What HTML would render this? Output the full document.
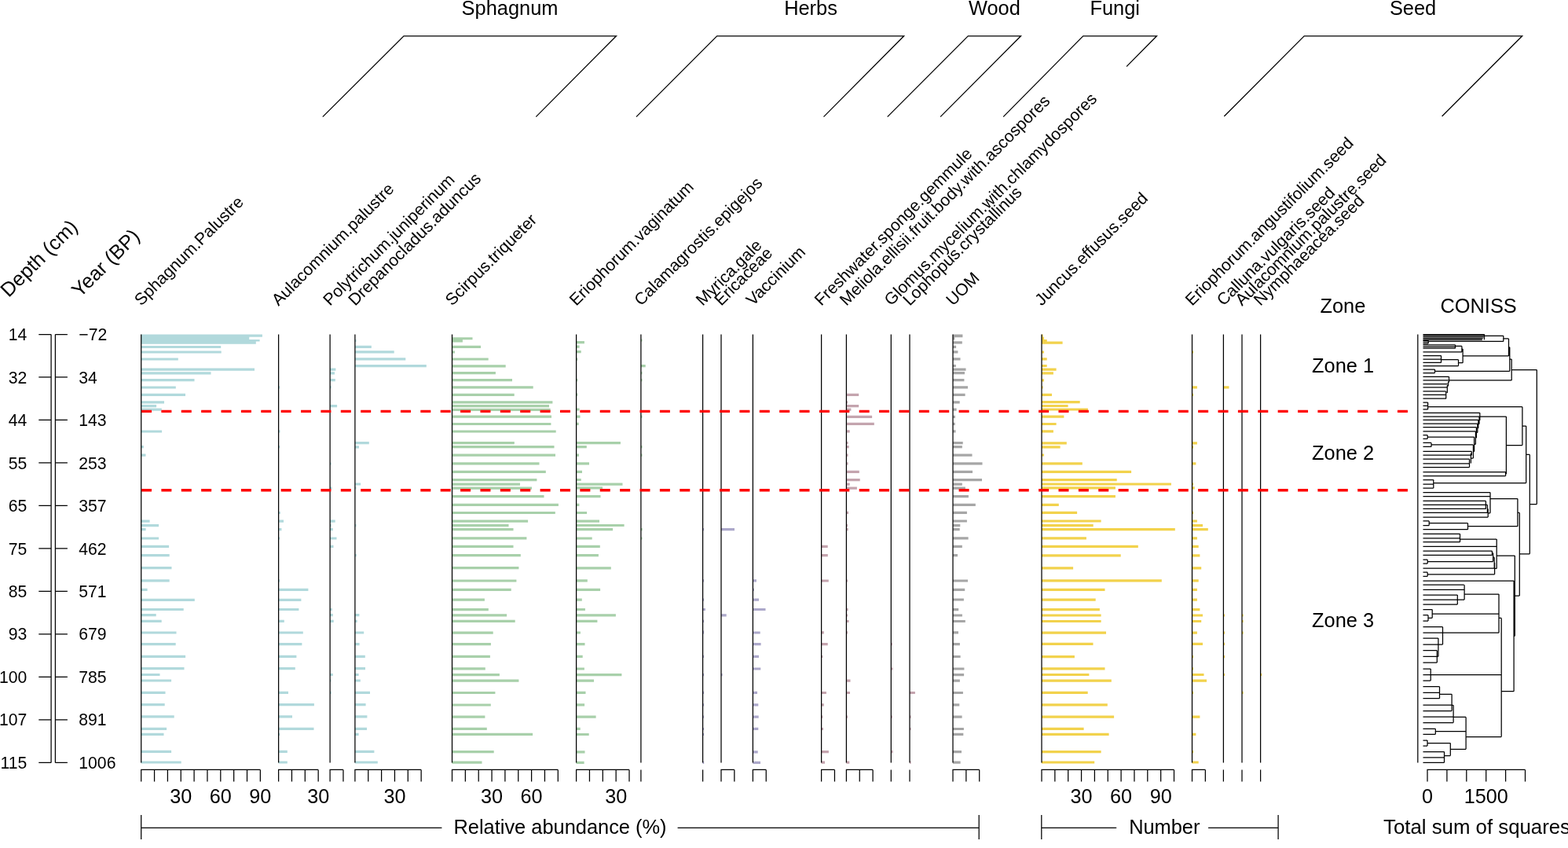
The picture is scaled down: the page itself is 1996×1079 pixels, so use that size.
<!DOCTYPE html>
<html><head><meta charset="utf-8"><title>Stratigraphic diagram</title>
<style>html,body{margin:0;padding:0;background:#fff;}svg{display:block;}</style>
</head><body>
<svg width="1996" height="1079" viewBox="0 0 1996 1079">
<rect width="1996" height="1079" fill="#fff"/>
<g>
<path d="M179.7 425.45H333.9V428.8H179.7ZM179.7 428.8H317.3V431.9H179.7ZM179.7 431.9H330.6V434.6H179.7ZM179.7 434.6H325.8V437.8H179.7ZM179.7 439.9H281.2V443.1H179.7ZM179.7 446.4H281.7V449.6H179.7ZM179.7 455.4H226.8V458.6H179.7ZM179.7 468.6H324V471.8H179.7ZM179.7 473.3H268.5V476.5H179.7ZM179.7 482.1H247.5V485.3H179.7ZM179.7 491.4H223.8V494.6H179.7ZM179.7 500.8H236V504H179.7ZM179.7 510.3H209V513.5H179.7ZM179.7 515.1H199.1V518.3H179.7ZM179.7 519.5H205.8V522.7H179.7ZM179.7 547.4H206.1V550.6H179.7ZM179.7 567H182.8V570.2H179.7ZM179.7 577.6H185.5V580.8H179.7ZM179.7 661.5H190.6V664.7H179.7ZM179.7 667.1H202.1V670.3H179.7ZM179.7 672.1H185.6V675.3H179.7ZM179.7 683.4H202.1V686.6H179.7ZM179.7 693.8H215.1V697H179.7ZM179.7 705H215.7V708.2H179.7ZM179.7 721H218.5V724.2H179.7ZM179.7 737.3H215.7V740.5H179.7ZM179.7 748.7H187.6V751.9H179.7ZM179.7 761.7H247.8V764.9H179.7ZM179.7 773.9H233.7V777.1H179.7ZM179.7 781.1H198.7V784.3H179.7ZM179.7 788.8H205.7V792H179.7ZM179.7 803.4H224.5V806.6H179.7ZM179.7 818.1H223.7V821.3H179.7ZM179.7 833.7H236.1V836.9H179.7ZM179.7 849.1H234.5V852.3H179.7ZM179.7 856.9H203.5V860.1H179.7ZM179.7 864.4H218.1V867.6H179.7ZM179.7 879.8H210.5V883H179.7ZM179.7 895H209.7V898.2H179.7ZM179.7 910.2H221.7V913.4H179.7ZM179.7 925.7H212.1V928.9H179.7ZM179.7 932.7H208.5V935.9H179.7ZM179.7 954.7H218.1V957.9H179.7ZM179.7 968.4H230.7V971.6H179.7Z" fill="#b1d9dc"/>
<path d="M354.6 491.2H356.2V494.4H354.6ZM354.6 547.2H356.5V550.4H354.6ZM354.6 567H356.2V570.2H354.6ZM354.6 650.9H356.8V654.1H354.6ZM354.6 661.5H361V664.7H354.6ZM354.6 672.1H358.4V675.3H354.6ZM354.6 683.4H356.2V686.6H354.6ZM354.6 737.3H356.2V740.5H354.6ZM354.6 748.7H392.4V751.9H354.6ZM354.6 761.7H383.4V764.9H354.6ZM354.6 773.9H380.4V777.1H354.6ZM354.6 788.8H361.8V792H354.6ZM354.6 803.4H385.8V806.6H354.6ZM354.6 818.1H384.4V821.3H354.6ZM354.6 833.7H377.4V836.9H354.6ZM354.6 849.1H375.8V852.3H354.6ZM354.6 879.8H367V883H354.6ZM354.6 895H399.9V898.2H354.6ZM354.6 910.2H372V913.4H354.6ZM354.6 925.7H399.5V928.9H354.6ZM354.6 932.7H356.2V935.9H354.6ZM354.6 954.7H365.8V957.9H354.6ZM354.6 968.4H365.8V971.6H354.6Z" fill="#b1d9dc"/>
<path d="M420.1 468.5H427.4V471.7H420.1ZM420.1 473.2H426V476.4H420.1ZM420.1 482.1H426.8V485.3H420.1ZM420.1 491.1H421.7V494.3H420.1ZM420.1 515.1H429.1V518.3H420.1ZM420.1 588.4H421.7V591.6H420.1ZM420.1 619.4H422.5V622.6H420.1ZM420.1 661.5H426.7V664.7H420.1ZM420.1 667.1H421.7V670.3H420.1ZM420.1 672.1H423.7V675.3H420.1ZM420.1 683.4H428.5V686.6H420.1ZM420.1 693.8H424.5V697H420.1ZM420.1 773.9H422.7V777.1H420.1ZM420.1 781.1H423.7V784.3H420.1ZM420.1 788.8H424.7V792H420.1ZM420.1 856.9H423.7V860.1H420.1ZM420.1 864.4H421.5V867.6H420.1ZM420.1 879.8H421.7V883H420.1Z" fill="#b1d9dc"/>
<path d="M451.9 431.9H453.5V435.1H451.9ZM451.9 439.7H472.8V442.9H451.9ZM451.9 446.3H501.7V449.5H451.9ZM451.9 455.3H516.3V458.5H451.9ZM451.9 464.1H542.8V467.3H451.9ZM451.9 562H469.8V565.2H451.9ZM451.9 567.2H457V570.4H451.9ZM451.9 614.4H459.1V617.6H451.9ZM451.9 619.3H453.5V622.5H451.9ZM451.9 667.1H453.5V670.3H451.9ZM451.9 705H453.8V708.2H451.9ZM451.9 781.1H457.4V784.3H451.9ZM451.9 788.8H454.6V792H451.9ZM451.9 803.4H463.2V806.6H451.9ZM451.9 818.1H457.6V821.3H451.9ZM451.9 833.7H464.8V836.9H451.9ZM451.9 849.1H465V852.3H451.9ZM451.9 856.9H456.6V860.1H451.9ZM451.9 864.4H458.8V867.6H451.9ZM451.9 879.8H471V883H451.9ZM451.9 895H465.6V898.2H451.9ZM451.9 910.2H467.4V913.4H451.9ZM451.9 925.7H467V928.9H451.9ZM451.9 932.7H456.6V935.9H451.9ZM451.9 954.7H476.4V957.9H451.9ZM451.9 968.4H480.8V971.6H451.9Z" fill="#b1d9dc"/>
<path d="M575.5 429.2H601.5V432.3H575.5ZM575.5 432.3H588.9V435.5H575.5ZM575.5 439.8H612V443H575.5ZM575.5 446.4H578.9V449.6H575.5ZM575.5 455.4H621.7V458.6H575.5ZM575.5 464.2H643.7V467.4H575.5ZM575.5 473H630.9V476.2H575.5ZM575.5 482.1H652V485.3H575.5ZM575.5 491.3H678.7V494.5H575.5ZM575.5 500.8H654.7V504H575.5ZM575.5 510.3H703.4V513.5H575.5ZM575.5 515H699V518.2H575.5ZM575.5 519.7H700.6V522.9H575.5ZM575.5 528.5H702V531.7H575.5ZM575.5 537.9H701.4V541.1H575.5ZM575.5 547.4H707.7V550.6H575.5ZM575.5 562H654.8V565.2H575.5ZM575.5 567.1H705.5V570.3H575.5ZM575.5 577.5H707V580.7H575.5ZM575.5 588.2H686.5V591.4H575.5ZM575.5 598.7H694.8V601.9H575.5ZM575.5 609H683.4V612.2H575.5ZM575.5 614.5H662V617.7H575.5ZM575.5 619.5H677V622.7H575.5ZM575.5 630.1H692.5V633.3H575.5ZM575.5 640.8H710.9V644H575.5ZM575.5 650.9H706.8V654.1H575.5ZM575.5 661.5H672.1V664.7H575.5ZM575.5 667H647.5V670.2H575.5ZM575.5 672.1H653.5V675.3H575.5ZM575.5 683.3H670.4V686.5H575.5ZM575.5 693.8H653.5V697H575.5ZM575.5 705.1H662.8V708.3H575.5ZM575.5 721.1H660.4V724.3H575.5ZM575.5 737.4H657.4V740.6H575.5ZM575.5 748.8H650.7V752H575.5ZM575.5 761.5H616.9V764.7H575.5ZM575.5 774.1H621.8V777.3H575.5ZM575.5 781.3H645.1V784.5H575.5ZM575.5 788.8H655.7V792H575.5ZM575.5 803.6H627.7V806.8H575.5ZM575.5 818.1H624.9V821.3H575.5ZM575.5 833.8H623.9V837H575.5ZM575.5 849.2H617.8V852.4H575.5ZM575.5 857.1H635.9V860.3H575.5ZM575.5 864.6H660.4V867.8H575.5ZM575.5 879.9H630.4V883.1H575.5ZM575.5 895.4H624.8V898.6H575.5ZM575.5 910.6H617.4V913.8H575.5ZM575.5 925.8H619.8V929H575.5ZM575.5 932.7H678.1V935.9H575.5ZM575.5 955.1H628.7V958.3H575.5ZM575.5 968.5H613.5V971.7H575.5Z" fill="#a8d0aa"/>
<path d="M733.6 434H743.9V437.2H733.6ZM733.6 439.6H737.6V442.8H733.6ZM733.6 446.1H739.7V449.3H733.6ZM733.6 455.5H735.2V458.7H733.6ZM733.6 482H735.2V485.2H733.6ZM733.6 500.5H735.2V503.7H733.6ZM733.6 519.4H737.6V522.6H733.6ZM733.6 528.5H738.5V531.7H733.6ZM733.6 537.7H736.7V540.9H733.6ZM733.6 562H789.9V565.2H733.6ZM733.6 567.1H746.8V570.3H733.6ZM733.6 577.5H737V580.7H733.6ZM733.6 588.3H750V591.5H733.6ZM733.6 598.8H741V602H733.6ZM733.6 608.9H739.7V612.1H733.6ZM733.6 614.5H792.5V617.7H733.6ZM733.6 619.2H767.1V622.4H733.6ZM733.6 630H764.5V633.2H733.6ZM733.6 640.8H737.4V644H733.6ZM733.6 650.9H747.1V654.1H733.6ZM733.6 661.5H763V664.7H733.6ZM733.6 666.9H794.6V670.1H733.6ZM733.6 672.1H780.1V675.3H733.6ZM733.6 683.4H753.7V686.6H733.6ZM733.6 693.8H763.8V697H733.6ZM733.6 705.1H761.9V708.3H733.6ZM733.6 721.2H777.8V724.4H733.6ZM733.6 737.2H747.8V740.4H733.6ZM733.6 748.8H764.1V752H733.6ZM733.6 761.5H740.8V764.7H733.6ZM733.6 773.9H744.9V777.1H733.6ZM733.6 781.2H783.9V784.4H733.6ZM733.6 788.8H760.4V792H733.6ZM733.6 803.4H738.9V806.6H733.6ZM733.6 818.1H744.5V821.3H733.6ZM733.6 833.8H741.7V837H733.6ZM733.6 849.4H743.9V852.6H733.6ZM733.6 857.1H791.4V860.3H733.6ZM733.6 864.5H756V867.7H733.6ZM733.6 879.8H745.5V883H733.6ZM733.6 895.3H744.1V898.5H733.6ZM733.6 910.5H758.6V913.7H733.6ZM733.6 925.8H738.7V929H733.6ZM733.6 932.9H749.7V936.1H733.6ZM733.6 955.2H744.5V958.4H733.6ZM733.6 968.7H743.6V971.9H733.6Z" fill="#a8d0aa"/>
<path d="M815.9 431.4H817.5V434.6H815.9ZM815.9 464H821.7V467.2H815.9ZM815.9 473.1H817.5V476.3H815.9ZM815.9 482H817.5V485.2H815.9ZM815.9 528.5H817.5V531.7H815.9ZM815.9 567.1H817.5V570.3H815.9ZM815.9 577.5H817.5V580.7H815.9ZM815.9 672.1H817.7V675.3H815.9ZM815.9 683.4H817.5V686.6H815.9Z" fill="#a8d0aa"/>
<path d="M894.6 672.1H896.2V675.3H894.6ZM894.6 737.2H896.2V740.4H894.6ZM894.6 761.5H896.2V764.7H894.6ZM894.6 773.9H897.9V777.1H894.6ZM894.6 788.8H896.2V792H894.6ZM894.6 802.6H896.2V803.4H894.6ZM894.6 803.4H896.2V806.6H894.6ZM894.6 833.8H896.2V837H894.6ZM894.6 857.1H896.2V860.3H894.6ZM894.6 879.8H896.2V883H894.6ZM894.6 895.3H896.2V898.5H894.6ZM894.6 910.6H896.2V913.8H894.6ZM894.6 925.9H896.2V929.1H894.6ZM894.6 932.9H896.2V936.1H894.6ZM894.6 968.7H896.2V971.9H894.6Z" fill="#aca8ca"/>
<path d="M918 672.1H935V675.3H918ZM918 781.2H924.7V784.4H918ZM918 857.1H919.6V860.3H918Z" fill="#aca8ca"/>
<path d="M958.4 737.2H962.9V740.4H958.4ZM958.4 748.8H960V752H958.4ZM958.4 761.5H966V764.7H958.4ZM958.4 773.9H974.5V777.1H958.4ZM958.4 803.4H967.7V806.6H958.4ZM958.4 818.1H968.6V821.3H958.4ZM958.4 833.8H966V837H958.4ZM958.4 849.4H968.3V852.6H958.4ZM958.4 879.8H964V883H958.4ZM958.4 895.3H965.3V898.5H958.4ZM958.4 910.5H965.7V913.7H958.4ZM958.4 925.8H965.3V929H958.4ZM958.4 955.2H964.7V958.4H958.4ZM958.4 968.7H968V971.9H958.4Z" fill="#aca8ca"/>
<path d="M1045.6 693.7H1053.7V696.9H1045.6ZM1045.6 705.1H1053.8V708.3H1045.6ZM1045.6 737.4H1054.8V740.6H1045.6ZM1045.6 803.3H1048.8V806.5H1045.6ZM1045.6 818.1H1053.7V821.3H1045.6ZM1045.6 833.9H1047.2V837.1H1045.6ZM1045.6 879.9H1051.9V883.1H1045.6ZM1045.6 895.3H1048.8V898.5H1045.6ZM1045.6 910.6H1047.2V913.8H1045.6ZM1045.6 925.9H1047.9V929.1H1045.6ZM1045.6 955H1054.9V958.2H1045.6ZM1045.6 968.5H1050V971.7H1045.6Z" fill="#c4a4ae"/>
<path d="M1077.4 500.8H1093.2V504H1077.4ZM1077.4 510.2H1079V513.4H1077.4ZM1077.4 515H1093.2V518.2H1077.4ZM1077.4 519.6H1083.4V522.8H1077.4ZM1077.4 528.7H1110.1V531.9H1077.4ZM1077.4 537.8H1112.8V541H1077.4ZM1077.4 547.2H1081.7V550.4H1077.4ZM1077.4 562H1079.5V565.2H1077.4ZM1077.4 567H1080.6V570.2H1077.4ZM1077.4 577.5H1079.5V580.7H1077.4ZM1077.4 588.3H1079.5V591.5H1077.4ZM1077.4 598.7H1093.8V601.9H1077.4ZM1077.4 609H1094.7V612.2H1077.4ZM1077.4 614.6H1081.7V617.8H1077.4ZM1077.4 619.5H1090.9V622.7H1077.4ZM1077.4 650.7H1080V653.9H1077.4ZM1077.4 667.1H1079V670.3H1077.4ZM1077.4 672H1079.6V675.2H1077.4ZM1077.4 737.4H1079V740.6H1077.4ZM1077.4 774H1079.5V777.2H1077.4ZM1077.4 781.4H1079V784.6H1077.4ZM1077.4 788.9H1080.5V792.1H1077.4ZM1077.4 803.3H1079V806.5H1077.4ZM1077.4 864.5H1082.5V867.7H1077.4ZM1077.4 879.9H1082V883.1H1077.4ZM1077.4 910.6H1079V913.8H1077.4ZM1077.4 968.5H1081.3V971.7H1077.4Z" fill="#c4a4ae"/>
<path d="M1134.3 818.1H1135.9V821.3H1134.3ZM1134.3 849.4H1136.6V852.6H1134.3ZM1134.3 910.6H1135.9V913.8H1134.3ZM1134.3 955H1136.6V958.2H1134.3Z" fill="#c4a4ae"/>
<path d="M1158 879.9H1164.9V883.1H1158ZM1158 910.6H1159.6V913.8H1158ZM1158 925.9H1159.6V929.1H1158ZM1158 968.5H1159.6V971.7H1158Z" fill="#c4a4ae"/>
<path d="M1213 425.5H1225.4V429.3H1213ZM1213 429.3H1215.3V432.5H1213ZM1213 434.2H1224.8V437.4H1213ZM1213 439.7H1217.1V442.9H1213ZM1213 446.3H1219.4V449.5H1213ZM1213 455.3H1222.5V458.5H1213ZM1213 463.9H1216.8V467.1H1213ZM1213 468.5H1229.5V471.7H1213ZM1213 473.1H1228V476.3H1213ZM1213 482.1H1227.4V485.3H1213ZM1213 491.3H1232V494.5H1213ZM1213 500.8H1228.6V504H1213ZM1213 510.2H1221.7V513.4H1213ZM1213 519.6H1217.6V522.8H1213ZM1213 528.7H1215.9V531.9H1213ZM1213 537.8H1215.7V541H1213ZM1213 547.2H1216.5V550.4H1213ZM1213 562H1225.7V565.2H1213ZM1213 567H1224.8V570.2H1213ZM1213 577.5H1237.5V580.7H1213ZM1213 588.3H1250.5V591.5H1213ZM1213 598.7H1238V601.9H1213ZM1213 609H1250V612.2H1213ZM1213 614.6H1224.8V617.8H1213ZM1213 619.5H1228.9V622.7H1213ZM1213 630H1232.9V633.2H1213ZM1213 640.8H1241.8V644H1213ZM1213 650.7H1230.9V653.9H1213ZM1213 661.4H1230.9V664.6H1213ZM1213 667.1H1222.3V670.3H1213ZM1213 672H1221.7V675.2H1213ZM1213 683.2H1232.6V686.4H1213ZM1213 693.7H1224.8V696.9H1213ZM1213 705.1H1219V708.3H1213ZM1213 737.4H1232V740.6H1213ZM1213 748.7H1228.2V751.9H1213ZM1213 761.4H1226.9V764.6H1213ZM1213 774H1220.2V777.2H1213ZM1213 781.4H1224.9V784.6H1213ZM1213 788.9H1228.8V792.1H1213ZM1213 803.3H1220V806.5H1213ZM1213 818.1H1221.9V821.3H1213ZM1213 833.9H1222.6V837.1H1213ZM1213 849.4H1227.4V852.6H1213ZM1213 857H1227.1V860.2H1213ZM1213 864.5H1221.9V867.7H1213ZM1213 879.9H1225.9V883.1H1213ZM1213 895.3H1221.3V898.5H1213ZM1213 910.6H1224.6V913.8H1213ZM1213 925.9H1226.9V929.1H1213ZM1213 932.8H1226.3V936H1213ZM1213 955H1224V958.2H1213ZM1213 968.5H1222.6V971.7H1213Z" fill="#a6a6a6"/>
<path d="M1326 425.45H1327.6V428.8H1326ZM1326 428.8H1329V431.9H1326ZM1326 431.9H1332.7V434.6H1326ZM1326 434.6H1352.6V437.8H1326ZM1326 446.4H1329V449.6H1326ZM1326 455.2H1332.7V458.4H1326ZM1326 463.9H1332.7V467.1H1326ZM1326 468.5H1344.6V471.7H1326ZM1326 473.3H1340.9V476.5H1326ZM1326 482.3H1329V485.5H1326ZM1326 491.3H1327.6V494.5H1326ZM1326 500.8H1339V504H1326ZM1326 510.1H1374.7V513.3H1326ZM1326 514.9H1359.6V518.1H1326ZM1326 519.4H1384.9V522.6H1326ZM1326 528.6H1354.4V531.8H1326ZM1326 537.9H1344.6V541.1H1326ZM1326 547.2H1340.9V550.4H1326ZM1326 562.2H1357.8V565.4H1326ZM1326 567.2H1349.6V570.4H1326ZM1326 577.4H1329V580.6H1326ZM1326 588.2H1377.8V591.4H1326ZM1326 598.8H1440.1V602H1326ZM1326 609H1421.7V612.2H1326ZM1326 614.4H1490.9V617.6H1326ZM1326 619.3H1419.9V622.5H1326ZM1326 630H1419.9V633.2H1326ZM1326 640.7H1347.8V643.9H1326ZM1326 650.8H1371.1V654H1326ZM1326 661.4H1401.6V664.6H1326ZM1326 667.1H1391.7V670.3H1326ZM1326 672.1H1495.8V675.3H1326ZM1326 683.3H1382.9V686.5H1326ZM1326 693.7H1448.8V696.9H1326ZM1326 705.2H1426.7V708.4H1326ZM1326 721.2H1366.1V724.4H1326ZM1326 737.3H1478.8V740.5H1326ZM1326 748.7H1406.5V751.9H1326ZM1326 761.5H1394.7V764.7H1326ZM1326 774H1399.9V777.2H1326ZM1326 781.4H1401.6V784.6H1326ZM1326 788.9H1401.6V792.1H1326ZM1326 803.5H1408V806.7H1326ZM1326 817.8H1391.5V821H1326ZM1326 834H1367.9V837.2H1326ZM1326 849.3H1406.5V852.5H1326ZM1326 856.9H1386.4V860.1H1326ZM1326 864.6H1414.8V867.8H1326ZM1326 879.8H1384.7V883H1326ZM1326 895.3H1409.8V898.5H1326ZM1326 910.5H1418.1V913.7H1326ZM1326 925.7H1379.6V928.9H1326ZM1326 932.7H1411.6V935.9H1326ZM1326 955.1H1401.6V958.3H1326ZM1326 968.4H1393.2V971.6H1326Z" fill="#f2d24c"/>
<path d="M1517.5 446.4H1519.1V449.6H1517.5ZM1517.5 491.3H1523.9V494.5H1517.5ZM1517.5 500.8H1519.1V504H1517.5ZM1517.5 562.2H1523.9V565.4H1517.5ZM1517.5 567.2H1519.1V570.4H1517.5ZM1517.5 588.2H1522.4V591.4H1517.5ZM1517.5 614.4H1519.1V617.6H1517.5ZM1517.5 619.3H1520.6V622.5H1517.5ZM1517.5 650.8H1519.1V654H1517.5ZM1517.5 661.4H1523.9V664.6H1517.5ZM1517.5 667.1H1531V670.3H1517.5ZM1517.5 672.1H1537.8V675.3H1517.5ZM1517.5 683.3H1523.9V686.5H1517.5ZM1517.5 693.7H1525.7V696.9H1517.5ZM1517.5 705.2H1527.4V708.4H1517.5ZM1517.5 721.2H1529.2V724.4H1517.5ZM1517.5 737.3H1525.7V740.5H1517.5ZM1517.5 748.7H1523.9V751.9H1517.5ZM1517.5 761.5H1523.9V764.7H1517.5ZM1517.5 774H1527.4V777.2H1517.5ZM1517.5 781.4H1531V784.6H1517.5ZM1517.5 788.9H1529.2V792.1H1517.5ZM1517.5 803.5H1523.9V806.7H1517.5ZM1517.5 817.8H1531V821H1517.5ZM1517.5 834H1519.1V837.2H1517.5ZM1517.5 849.3H1519.1V852.5H1517.5ZM1517.5 856.9H1532.5V860.1H1517.5ZM1517.5 864.6H1536V867.8H1517.5ZM1517.5 879.8H1519.1V883H1517.5ZM1517.5 910.5H1527.4V913.7H1517.5ZM1517.5 932.7H1522.4V935.9H1517.5ZM1517.5 955.1H1519.1V958.3H1517.5ZM1517.5 968.4H1525.7V971.6H1517.5Z" fill="#f2d24c"/>
<path d="M1557.4 491.3H1564.5V494.5H1557.4ZM1557.4 781.4H1559V784.6H1557.4ZM1557.4 803.5H1559V806.7H1557.4ZM1557.4 817.8H1559V821H1557.4ZM1557.4 834H1559V837.2H1557.4ZM1557.4 856.9H1559V860.1H1557.4Z" fill="#f2d24c"/>
<path d="M1581 781.4H1582.6V784.6H1581ZM1581 788.9H1582.6V792.1H1581ZM1581 803.5H1582.6V806.7H1581ZM1581 879.8H1582.6V883H1581Z" fill="#f2d24c"/>
<path d="M1604.6 856.9H1606.2V860.1H1604.6Z" fill="#f2d24c"/>
</g>
<g stroke="#000" stroke-width="1.25" fill="none" stroke-linecap="butt">
<line x1="179.7" y1="425.5" x2="179.7" y2="970.5"/>
<path d="M179.7 994.5V979.4H331.35M196.55 979.4V994.5M213.4 979.4V994.5M230.25 979.4V994.5M247.1 979.4V994.5M263.95 979.4V994.5M280.8 979.4V994.5M297.65 979.4V994.5M314.5 979.4V994.5M331.35 979.4V994.5"/>
<line x1="354.6" y1="425.5" x2="354.6" y2="970.5"/>
<path d="M354.6 994.5V979.4H405.15M371.45 979.4V994.5M388.3 979.4V994.5M405.15 979.4V994.5"/>
<line x1="420.1" y1="425.5" x2="420.1" y2="970.5"/>
<path d="M420.1 994.5V979.4H436.95M436.95 979.4V994.5"/>
<line x1="451.9" y1="425.5" x2="451.9" y2="970.5"/>
<path d="M451.9 994.5V979.4H536.15M468.75 979.4V994.5M485.6 979.4V994.5M502.45 979.4V994.5M519.3 979.4V994.5M536.15 979.4V994.5"/>
<line x1="575.5" y1="425.5" x2="575.5" y2="970.5"/>
<path d="M575.5 994.5V979.4H710.3M592.35 979.4V994.5M609.2 979.4V994.5M626.05 979.4V994.5M642.9 979.4V994.5M659.75 979.4V994.5M676.6 979.4V994.5M693.45 979.4V994.5M710.3 979.4V994.5"/>
<line x1="733.6" y1="425.5" x2="733.6" y2="970.5"/>
<path d="M733.6 994.5V979.4H801M750.45 979.4V994.5M767.3 979.4V994.5M784.15 979.4V994.5M801 979.4V994.5"/>
<line x1="815.9" y1="425.5" x2="815.9" y2="970.5"/>
<path d="M815.9 994.5V979.4"/>
<line x1="894.6" y1="425.5" x2="894.6" y2="970.5"/>
<path d="M894.6 994.5V979.4"/>
<line x1="918" y1="425.5" x2="918" y2="970.5"/>
<path d="M918 994.5V979.4H934.85M934.85 979.4V994.5"/>
<line x1="958.4" y1="425.5" x2="958.4" y2="970.5"/>
<path d="M958.4 994.5V979.4H975.25M975.25 979.4V994.5"/>
<line x1="1045.6" y1="425.5" x2="1045.6" y2="970.5"/>
<path d="M1045.6 994.5V979.4H1062.45M1062.45 979.4V994.5"/>
<line x1="1077.4" y1="425.5" x2="1077.4" y2="970.5"/>
<path d="M1077.4 994.5V979.4H1111.1M1094.25 979.4V994.5M1111.1 979.4V994.5"/>
<line x1="1134.3" y1="425.5" x2="1134.3" y2="970.5"/>
<path d="M1134.3 994.5V979.4"/>
<line x1="1158" y1="425.5" x2="1158" y2="970.5"/>
<path d="M1158 994.5V979.4"/>
<line x1="1213" y1="425.5" x2="1213" y2="970.5"/>
<path d="M1213 994.5V979.4H1246.7M1229.85 979.4V994.5M1246.7 979.4V994.5"/>
<line x1="1326" y1="425.5" x2="1326" y2="970.5"/>
<path d="M1326 994.5V979.4H1494.5M1342.85 979.4V994.5M1359.7 979.4V994.5M1376.55 979.4V994.5M1393.4 979.4V994.5M1410.25 979.4V994.5M1427.1 979.4V994.5M1443.95 979.4V994.5M1460.8 979.4V994.5M1477.65 979.4V994.5M1494.5 979.4V994.5"/>
<line x1="1517.5" y1="425.5" x2="1517.5" y2="970.5"/>
<path d="M1517.5 994.5V979.4H1534.35M1534.35 979.4V994.5"/>
<line x1="1557.4" y1="425.5" x2="1557.4" y2="970.5"/>
<path d="M1557.4 994.5V979.4"/>
<line x1="1581" y1="425.5" x2="1581" y2="970.5"/>
<path d="M1581 994.5V979.4"/>
<line x1="1604.6" y1="425.5" x2="1604.6" y2="970.5"/>
<path d="M1604.6 994.5V979.4"/>
<path d="M65.1 425.5V970.5M70.4 425.5V970.5"/>
<path d="M49.3 425.5H65.1M70.4 425.5H85.9M49.3 479.98H65.1M70.4 479.98H85.9M49.3 534.46H65.1M70.4 534.46H85.9M49.3 588.94H65.1M70.4 588.94H85.9M49.3 643.42H65.1M70.4 643.42H85.9M49.3 697.9H65.1M70.4 697.9H85.9M49.3 752.38H65.1M70.4 752.38H85.9M49.3 806.86H65.1M70.4 806.86H85.9M49.3 861.34H65.1M70.4 861.34H85.9M49.3 915.82H65.1M70.4 915.82H85.9M49.3 970.3H65.1M70.4 970.3H85.9"/>
<polyline points="410.8,148.6 514,45.8 784.5,45.8 682.3,148.6"/>
<polyline points="810,148.6 912.7,45.8 1150.7,45.8 1048.5,148.6"/>
<polyline points="1129.7,148.6 1232.3,45.8 1299.5,45.8 1197.1,148.6"/>
<polyline points="1277.2,148.6 1378.8,45.8 1472.5,45.8 1434.1,84.6"/>
<polyline points="1558.3,148 1660.2,45.8 1937.7,45.8 1835.6,148"/>
<path d="M179.7 1037V1068M179.7 1053.4H562.4M862.6 1053.4H1246.2M1246.2 1037V1068"/>
<path d="M1325.8 1037V1068M1325.8 1053.4H1421.2M1538.1 1053.4H1627.1M1627.1 1037V1068"/>
<line x1="1804.8" y1="425.5" x2="1804.8" y2="970.5"/>
<path d="M1811.5 425.5H1889.8M1811.5 427.2H1889.2M1811.5 428.9H1888.5M1811.5 430.6H1887.6M1811.5 432.3H1886.8M1889.8 427.3H1913.8M1811.5 433.3H1818.2M1811.5 435.2H1818.2M1811.5 437.1H1818.2M1818.2 434.4H1913.8M1913.8 430.9H1920.5M1811.5 438.8H1852.5M1811.5 441H1852.5M1811.5 443.2H1852.5M1852.5 440.4H1860.9M1811.5 447.8H1860.9M1860.9 444H1862.1M1862.1 452.9H1920.5M1811.5 452.5H1834.5M1811.5 457H1834.5M1811.5 461.4H1834.5M1834.5 457.7H1856.5M1811.5 465.5H1856.5M1856.5 461.7H1862.1M1811.5 470.1H1826.5M1811.5 474.5H1826.5M1826.5 472.3H1921.8M1920.5 441.8H1921.8M1921.8 457H1924.2M1811.5 479.3H1844.5M1811.5 483.9H1843.7M1811.5 488.5H1842.6M1811.5 492.8H1842.1M1811.5 497.8H1840.2M1811.5 502.4H1840.2M1811.5 507.2H1840.9M1844.5 483.9H1924.2M1924.2 470.5H1956.3M1811.5 512H1817.6M1811.5 516.3H1817.6M1811.5 520.9H1817.6M1817.6 517.7H1937.9M1811.5 553.7H1817.2M1811.5 558.3H1817.2M1811.5 563.4H1822M1811.5 568.4H1822M1811.5 574.4H1873.3M1811.5 579.2H1873.3M1811.5 584.2H1870.5M1811.5 589.8H1870.5M1811.5 594.6H1870.5M1822 565.9H1875.4M1872.4 583.1H1875.4M1817.2 556H1876.6M1875.4 574.5H1876.6M1811.5 548.9H1878.4M1876.6 565.25H1878.4M1811.5 543.7H1879.4M1878.4 557.08H1879.4M1811.5 539.1H1880.8M1879.4 550.39H1880.8M1811.5 534.3H1881.8M1880.8 544.74H1881.8M1811.5 530.1H1883M1881.8 539.52H1883M1811.5 525.3H1883.8M1883 534.81H1883.8M1883.8 530.06H1917.4M1811.5 600.5H1916.6M1811.5 605.5H1916.6M1916.6 603H1917.4M1917.4 566.5H1937.9M1937.9 542.1H1942.7M1811.5 610.5H1824.8M1811.5 616.1H1824.8M1811.5 621.1H1824.8M1824.8 614.5H1942.7M1942.7 578.4H1947.3M1947.3 641.6H1956.3M1811.5 637.4H1891.4M1811.5 642.4H1891.4M1811.5 647.4H1891.4M1811.5 652.4H1893.4M1891.4 642.4H1893.4M1811.5 658.1H1894.2M1893.4 647.4H1894.2M1811.5 626.5H1897M1811.5 631.7H1897M1894.2 652.75H1897M1897 634.6H1931.9M1811.5 662.9H1819.2M1811.5 668.5H1819.2M1819.2 665.7H1868.5M1811.5 673.7H1868.5M1868.5 669.7H1931.9M1931.9 652.4H1934.3M1934.3 704.8H1947.3M1811.5 679.3H1858.5M1811.5 684.9H1858.5M1811.5 689.7H1858.5M1858.5 686.1H1905M1811.5 695.3H1905M1811.5 701H1899.4M1811.5 706.4H1899.4M1811.5 712.2H1817.2M1811.5 717H1817.2M1817.2 714.6H1900.6M1899.4 703.7H1900.6M1811.5 723H1902.2M1900.6 709.15H1902.2M1811.5 728.2H1817.2M1811.5 733.3H1817.2M1817.2 730.75H1902.6M1902.2 716.08H1902.6M1902.6 723.41H1905.2M1905.2 707H1928.3M1928.3 758.1H1934.3M1811.5 739H1927.1M1927.1 809.3H1928.3M1811.5 744.2H1863.7M1811.5 750.3H1863.7M1811.5 757.1H1855.3M1811.5 763.2H1855.3M1811.5 769.1H1855.3M1855.3 763.1H1864.1M1864.1 756.1H1908M1811.5 775.6H1823.2M1811.5 782.7H1818M1811.5 790H1818M1818 786.35H1823.2M1823.2 781.2H1908M1811.5 797.7H1836.5M1811.5 805H1908M1811.5 812.1H1830.9M1811.5 827.7H1829.3M1811.5 835.3H1829.3M1811.5 843H1829.3M1829.3 835.35H1830.9M1811.5 820.1H1830.9M1830.9 820.1H1836.5M1908 786.4H1911.2M1811.5 851.1H1821.2M1811.5 858.6H1821.2M1811.5 866.1H1821.2M1821.2 858.6H1911.2M1911.2 879.7H1927.1M1811.5 873.7H1832.5M1811.5 881.3H1832.5M1811.5 888.7H1832.5M1832.5 883.3H1848.1M1811.5 897.1H1848.1M1811.5 904.5H1848.1M1848.1 897.3H1850.1M1811.5 912.1H1850.1M1811.5 919.5H1850.1M1850.1 912.4H1866.1M1811.5 927.3H1827.3M1811.5 934.3H1827.3M1827.3 930.7H1866.1M1811.5 942H1817M1811.5 949.1H1817M1817 945.5H1846.3M1811.5 956.5H1838.5M1811.5 963.9H1838.5M1811.5 970.3H1838.5M1838.5 961.5H1846.3M1846.3 953.3H1866.1M1866.1 937.5H1911.2M1889.4 425.5V432.3M1913.8 427.3V434.4M1818.2 433.3V437.1M1920.5 430.9V452.9M1852.5 438.8V443.2M1860.9 440.4V447.8M1862.1 444V461.7M1834.5 452.5V461.4M1856.5 457.7V465.5M1826.5 470.1V474.5M1921.8 441.8V472.3M1924.2 457V483.9M1844.5 479.3V486.5M1843.5 485.5V491.5M1842.3 490V500M1840.7 497.8V507.2M1956.3 470.5V641.6M1817.6 512V520.9M1817.2 553.7V558.3M1822 563.4V568.4M1873.3 574.4V579.2M1870.5 584.2V594.6M1872.4 576.8V589.4M1875.4 565.9V583.1M1876.6 556V574.5M1878.4 548.9V565.25M1879.4 543.7V557.08M1880.8 539.1V550.39M1881.8 534.3V544.74M1883 530.1V539.52M1883.8 525.3V534.81M1916.6 600.5V605.5M1917.4 530.06V603M1937.9 517.7V566.5M1824.8 610.5V621.1M1942.7 542.1V614.5M1947.3 578.4V704.8M1891.4 637.4V647.4M1893.4 642.4V652.4M1894.2 647.4V658.1M1897 626.5V652.75M1931.9 634.6V669.7M1819.2 662.9V668.5M1868.5 665.7V673.7M1934.3 652.4V758.1M1858.5 679.3V689.7M1899.4 701V706.4M1817.2 712.2V717M1900.6 703.7V714.6M1902.2 709.15V723M1817.2 728.2V733.3M1902.6 716.08V730.75M1905.2 686.1V723.41M1928.3 707V809.3M1927.1 739V879.7M1855.3 757.1V769.1M1864.1 744.2V763.1M1908 756.1V805M1818 782.7V790M1823.2 775.6V786.35M1829.3 827.7V843M1830.9 812.1V835.35M1836.5 797.7V820.1M1911.2 786.4V937.5M1821.2 851.1V866.1M1832.5 873.7V888.7M1848.1 883.3V904.5M1850.1 897.3V919.5M1827.3 927.3V934.3M1817 942V949.1M1838.5 956.5V970.3M1846.3 945.5V961.5M1866.1 912.4V953.3"/>
<path d="M1817 994.5V979.4H1941.5M1841.9 979.4V994.5M1866.8 979.4V994.5M1891.7 979.4V994.5M1916.6 979.4V994.5M1941.5 979.4V994.5"/>
</g>
<line x1="180" y1="523.4" x2="1792" y2="523.4" stroke="#ff0000" stroke-width="3.4" stroke-dasharray="13.0 12.38"/>
<line x1="180" y1="623.8" x2="1792" y2="623.8" stroke="#ff0000" stroke-width="3.4" stroke-dasharray="13.0 12.38"/>
<g font-family="Liberation Sans, Arial, Helvetica, sans-serif" fill="#000">
<text x="649.0" y="18.8" font-size="25.4" text-anchor="middle">Sphagnum</text>
<text x="1032.0" y="18.8" font-size="25.4" text-anchor="middle">Herbs</text>
<text x="1265.9" y="18.8" font-size="25.4" text-anchor="middle">Wood</text>
<text x="1419.2" y="18.8" font-size="25.4" text-anchor="middle">Fungi</text>
<text x="1798.6" y="18.8" font-size="25.4" text-anchor="middle">Seed</text>
<text x="34.3" y="433.1" font-size="21.2" text-anchor="end">14</text>
<text x="100.3" y="433.1" font-size="21.2">−72</text>
<text x="34.3" y="487.58" font-size="21.2" text-anchor="end">32</text>
<text x="100.3" y="487.58" font-size="21.2">34</text>
<text x="34.3" y="542.06" font-size="21.2" text-anchor="end">44</text>
<text x="100.3" y="542.06" font-size="21.2">143</text>
<text x="34.3" y="596.54" font-size="21.2" text-anchor="end">55</text>
<text x="100.3" y="596.54" font-size="21.2">253</text>
<text x="34.3" y="651.02" font-size="21.2" text-anchor="end">65</text>
<text x="100.3" y="651.02" font-size="21.2">357</text>
<text x="34.3" y="705.5" font-size="21.2" text-anchor="end">75</text>
<text x="100.3" y="705.5" font-size="21.2">462</text>
<text x="34.3" y="759.98" font-size="21.2" text-anchor="end">85</text>
<text x="100.3" y="759.98" font-size="21.2">571</text>
<text x="34.3" y="814.46" font-size="21.2" text-anchor="end">93</text>
<text x="100.3" y="814.46" font-size="21.2">679</text>
<text x="34.3" y="868.94" font-size="21.2" text-anchor="end">100</text>
<text x="100.3" y="868.94" font-size="21.2">785</text>
<text x="34.3" y="923.42" font-size="21.2" text-anchor="end">107</text>
<text x="100.3" y="923.42" font-size="21.2">891</text>
<text x="34.3" y="977.9" font-size="21.2" text-anchor="end">115</text>
<text x="100.3" y="977.9" font-size="21.2">1006</text>
<text x="230.25" y="1021.6" font-size="25.2" text-anchor="middle">30</text>
<text x="280.8" y="1021.6" font-size="25.2" text-anchor="middle">60</text>
<text x="331.35" y="1021.6" font-size="25.2" text-anchor="middle">90</text>
<text x="405.15" y="1021.6" font-size="25.2" text-anchor="middle">30</text>
<text x="502.45" y="1021.6" font-size="25.2" text-anchor="middle">30</text>
<text x="626.05" y="1021.6" font-size="25.2" text-anchor="middle">30</text>
<text x="676.6" y="1021.6" font-size="25.2" text-anchor="middle">60</text>
<text x="784.15" y="1021.6" font-size="25.2" text-anchor="middle">30</text>
<text x="1376.55" y="1021.6" font-size="25.2" text-anchor="middle">30</text>
<text x="1427.1" y="1021.6" font-size="25.2" text-anchor="middle">60</text>
<text x="1477.65" y="1021.6" font-size="25.2" text-anchor="middle">90</text>
<text x="1817" y="1021.6" font-size="25.2" text-anchor="middle">0</text>
<text x="1891.7" y="1021.6" font-size="25.2" text-anchor="middle">1500</text>
<text x="713" y="1060.5" font-size="25.4" text-anchor="middle">Relative abundance (%)</text>
<text x="1482.3" y="1060.5" font-size="25.4" text-anchor="middle">Number</text>
<text x="1761" y="1060.5" font-size="25.8">Total sum of squares</text>
<text x="1709.4" y="398.1" font-size="25.4" text-anchor="middle">Zone</text>
<text x="1882.1" y="398.1" font-size="25.4" text-anchor="middle">CONISS</text>
<text x="1709.6" y="473.7" font-size="25.4" text-anchor="middle">Zone 1</text>
<text x="1709.6" y="585.0" font-size="25.4" text-anchor="middle">Zone 2</text>
<text x="1709.6" y="797.8" font-size="25.4" text-anchor="middle">Zone 3</text>
<text transform="translate(179.7 390) rotate(-45)" font-size="21.2">Sphagnum.Palustre</text>
<text transform="translate(354.6 390) rotate(-45)" font-size="21.2">Aulacomnium.palustre</text>
<text transform="translate(420.1 390) rotate(-45)" font-size="21.2">Polytrichum.juniperinum</text>
<text transform="translate(451.9 390) rotate(-45)" font-size="21.2">Drepanocladus.aduncus</text>
<text transform="translate(575.5 390) rotate(-45)" font-size="21.2">Scirpus.triqueter</text>
<text transform="translate(733.6 390) rotate(-45)" font-size="21.2">Eriophorum.vaginatum</text>
<text transform="translate(815.9 390) rotate(-45)" font-size="21.2">Calamagrostis.epigejos</text>
<text transform="translate(894.6 390) rotate(-45)" font-size="21.2">Myrica.gale</text>
<text transform="translate(918 390) rotate(-45)" font-size="21.2">Ericaceae</text>
<text transform="translate(958.4 390) rotate(-45)" font-size="21.2">Vaccinium</text>
<text transform="translate(1045.6 390) rotate(-45)" font-size="21.2">Freshwater.sponge.gemmule</text>
<text transform="translate(1077.4 390) rotate(-45)" font-size="21.2">Meliola.ellisii.fruit.body.with.ascospores</text>
<text transform="translate(1134.3 390) rotate(-45)" font-size="21.2">Glomus.mycelium.with.chlamydospores</text>
<text transform="translate(1158 390) rotate(-45)" font-size="21.2">Lophopus.crystallinus</text>
<text transform="translate(1213 390) rotate(-45)" font-size="21.2">UOM</text>
<text transform="translate(1326 390) rotate(-45)" font-size="21.2">Juncus.effusus.seed</text>
<text transform="translate(1517.5 390) rotate(-45)" font-size="21.2">Eriophorum.angustifolium.seed</text>
<text transform="translate(1557.4 390) rotate(-45)" font-size="21.2">Calluna.vulgaris.seed</text>
<text transform="translate(1581 390) rotate(-45)" font-size="21.2">Aulacomnium.palustre.seed</text>
<text transform="translate(1604.6 390) rotate(-45)" font-size="21.2">Nymphaeacea.seed</text>
<text transform="translate(11.1 379.3) rotate(-45)" font-size="25.5">Depth (cm)</text>
<text transform="translate(101.7 379.4) rotate(-45)" font-size="25.5">Year (BP)</text>
</g>
</svg>
</body></html>
